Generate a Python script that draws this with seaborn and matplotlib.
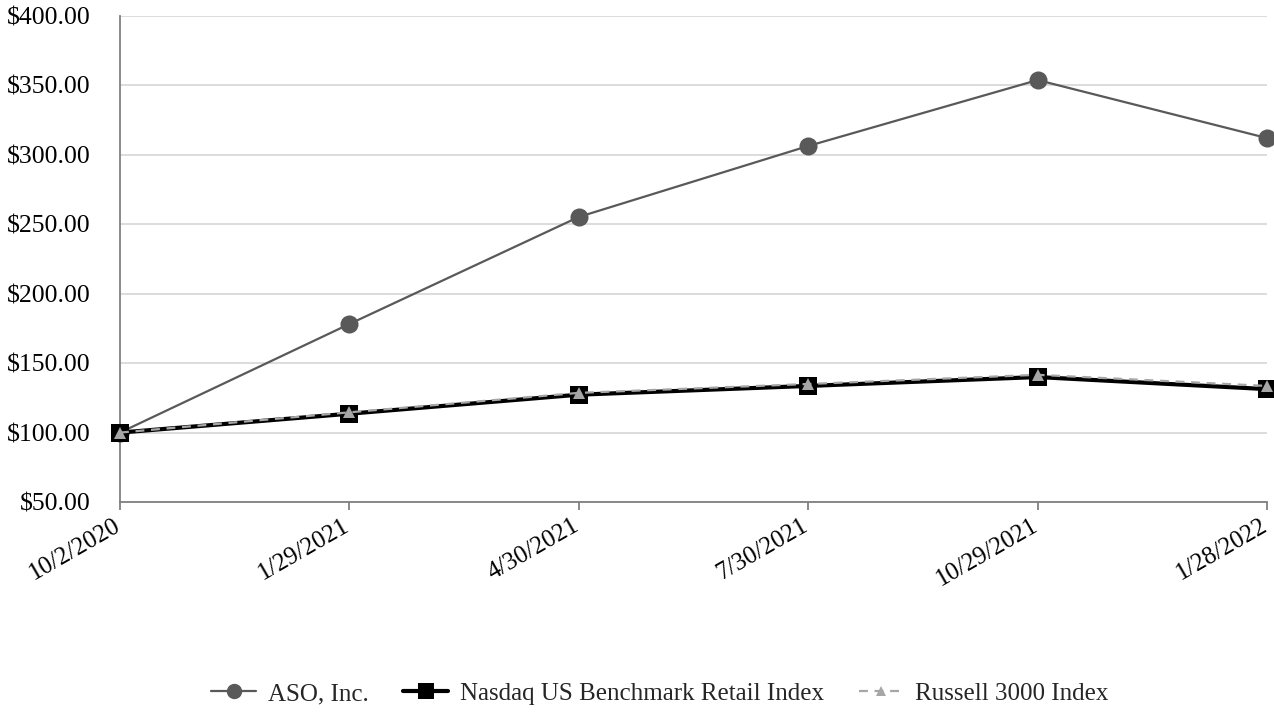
import matplotlib
matplotlib.use("Agg")
import matplotlib.pyplot as plt
import matplotlib.transforms as mtransforms
import seaborn as sns
import pandas as pd
from matplotlib.ticker import FuncFormatter, MultipleLocator

dates = ["10/2/2020", "1/29/2021", "4/30/2021", "7/30/2021", "10/29/2021", "1/28/2022"]
aso = [100.0, 178.2, 255.3, 306.4, 353.9, 312.1]
nasdaq_retail = [100.0, 113.6, 127.3, 133.6, 140.0, 131.3]
russell_3000 = [100.0, 114.6, 128.6, 135.0, 141.6, 133.6]

series_names = ["ASO, Inc.", "Nasdaq US Benchmark Retail Index", "Russell 3000 Index"]
series_values = [aso, nasdaq_retail, russell_3000]

rows = []
for name, vals in zip(series_names, series_values):
    for i, (d, v) in enumerate(zip(dates, vals)):
        rows.append({"pos": i, "date": d, "series": name, "value": v})
df = pd.DataFrame(rows)

sns.set_theme(style="white")
plt.rcParams["font.family"] = ["Liberation Serif", "DejaVu Serif"]

fig = plt.figure(figsize=(12.74, 7.19), dpi=100)
ax = fig.add_axes([0.0942, 0.3018, 0.9003, 0.6759])

styles = {
    "ASO, Inc.": dict(color="#595959", lw=1.6, ls="-", marker="o", ms=13,
                      mfc="#595959", mec="#595959", mew=0, zorder=3),
    "Nasdaq US Benchmark Retail Index": dict(color="#000000", lw=3.0, ls="-", marker="s", ms=13,
                                             mfc="#000000", mec="#000000", mew=0, zorder=4),
    "Russell 3000 Index": dict(color="#A6A6A6", lw=1.6, ls=(0, (4, 3)), marker="^", ms=9,
                               mfc="#A6A6A6", mec="#A6A6A6", mew=0, zorder=5),
}

for name in series_names:
    st = styles[name]
    sub = df[df["series"] == name]
    sns.lineplot(data=sub, x="pos", y="value", ax=ax, color=st["color"], lw=st["lw"],
                 linestyle=st["ls"], marker=st["marker"], markersize=st["ms"],
                 markerfacecolor=st["mfc"], markeredgecolor=st["mec"],
                 markeredgewidth=st["mew"], zorder=st["zorder"], label=name,
                 clip_on=False, legend=True)

ax.set_xlim(0, len(dates) - 1)
ax.set_ylim(50, 400)
ax.yaxis.set_major_locator(MultipleLocator(50))
ax.yaxis.set_major_formatter(FuncFormatter(lambda v, p: f"${v:,.2f}"))
ax.set_xticks(range(len(dates)))
ax.set_xticklabels(dates, rotation=30, ha="right", rotation_mode="anchor")
ax.set_xlabel("")
ax.set_ylabel("")

ax.grid(axis="y", color="#D9D9D9", lw=1.3)
ax.grid(axis="x", visible=False)
for s in ["top", "right"]:
    ax.spines[s].set_visible(False)
for s in ["left", "bottom"]:
    ax.spines[s].set_color("#808080")
    ax.spines[s].set_linewidth(1.3)

ax.tick_params(axis="x", bottom=True, direction="out", length=6, width=1.3,
               color="#808080", labelsize=18, pad=3, labelcolor="#000000")
ax.tick_params(axis="y", left=False, labelsize=18.5, pad=15, labelcolor="#000000")

# nudge the rotated date labels slightly left so their ends sit on the ticks
shift = mtransforms.ScaledTranslation(-7 / 100, 0, fig.dpi_scale_trans)
for lbl in ax.get_xticklabels():
    lbl.set_transform(lbl.get_transform() + shift)

handles, labels = ax.get_legend_handles_labels()
ax.get_legend().remove()
leg = fig.legend(handles, labels, loc="center", bbox_to_anchor=(0.518, 0.035), ncol=3,
                 frameon=False, fontsize=18, handlelength=1.8, columnspacing=1.4,
                 handletextpad=0.45)
for h in leg.legend_handles:
    h.set_markersize(h.get_markersize() * 0.85)

fig.savefig("out.png", dpi=100)
